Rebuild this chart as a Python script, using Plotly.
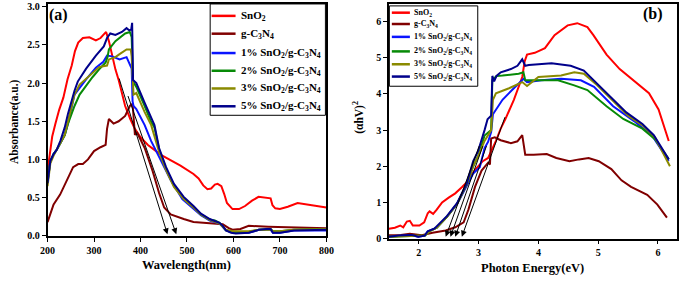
import plotly.graph_objects as go

W, H = 685, 281
FONT = "Liberation Serif"

names = ["SnO<sub>2</sub>", "g-C<sub>3</sub>N<sub>4</sub>",
         "1% SnO<sub>2</sub>/g-C<sub>3</sub>N<sub>4</sub>",
         "2% SnO<sub>2</sub>/g-C<sub>3</sub>N<sub>4</sub>",
         "3% SnO<sub>2</sub>/g-C<sub>3</sub>N<sub>4</sub>",
         "5% SnO<sub>2</sub>/g-C<sub>3</sub>N<sub>4</sub>"]
colors = ["#ff0000", "#800000", "#0a14ff", "#078a07", "#8a8a00", "#00008b"]

# ---------------- (a) absorbance vs wavelength ----------------
wl_sno2 = [200, 205, 210, 217, 225, 234, 243, 252, 259, 266, 276, 290, 304, 314, 322, 326, 332, 339, 346, 353,
           367, 378, 388, 400, 416, 444, 465, 486, 514, 525, 535, 544, 552, 560, 566, 574, 580, 586, 598, 612,
           625, 640, 654, 668, 680, 684, 690, 700, 717, 738, 766, 800]
ab_sno2 = [0.85, 1.1, 1.3, 1.47, 1.65, 1.81, 2.05, 2.23, 2.42, 2.53, 2.59, 2.60, 2.56, 2.59, 2.65, 2.67, 2.55, 2.35, 2.18, 2.04,
           1.70, 1.53, 1.40, 1.29, 1.19, 1.06, 0.99, 0.92, 0.81, 0.75, 0.66, 0.61, 0.62, 0.67, 0.68, 0.65, 0.55, 0.43, 0.35, 0.35,
           0.39, 0.46, 0.51, 0.50, 0.49, 0.40, 0.36, 0.35, 0.38, 0.43, 0.40, 0.37]

wl_gcn = [200, 206, 213, 227, 241, 255, 266, 276, 287, 300, 314, 325, 328, 332, 342, 353, 367, 377, 383, 386, 388, 392,
          409, 426, 440, 451, 465, 493, 514, 535, 577, 590, 598, 615, 633, 675, 800]
ab_gcn = [0.18, 0.30, 0.41, 0.54, 0.73, 0.90, 0.94, 0.94, 1.00, 1.11, 1.16, 1.19, 1.40, 1.53, 1.47, 1.50, 1.57, 1.70, 1.73, 1.45, 1.32, 1.36,
          1.15, 0.85, 0.56, 0.37, 0.28, 0.22, 0.18, 0.17, 0.15, 0.10, 0.08, 0.09, 0.13, 0.12, 0.10]

wl_1 = [200, 206, 213, 220, 228, 237, 244, 258, 283, 304, 320, 328, 339, 355, 370, 377, 381, 383, 385, 391, 409, 423,
        444, 465, 490, 514, 530, 549, 570, 584, 600, 633, 655, 680, 685, 700, 730, 800]
ab_1 = [0.70, 0.98, 1.07, 1.13, 1.22, 1.32, 1.47, 1.85, 2.05, 2.20, 2.28, 2.36, 2.35, 2.31, 2.34, 2.25, 2.19, 1.76, 1.70, 1.66, 1.45, 1.24,
        0.98, 0.73, 0.48, 0.36, 0.27, 0.20, 0.16, 0.07, 0.04, 0.04, 0.08, 0.08, 0.04, 0.04, 0.07, 0.07]

wl_2 = [200, 206, 213, 220, 228, 237, 244, 258, 269, 283, 297, 311, 325, 329, 332, 346, 360, 367, 377, 381, 384, 391,
        409, 423, 430, 440, 455, 472, 493, 514, 530, 549, 560, 570, 577, 584, 595, 605, 633, 655, 680, 685, 700, 730, 800]
ab_2 = [0.72, 0.98, 1.07, 1.13, 1.22, 1.32, 1.47, 1.70, 1.85, 1.97, 2.08, 2.18, 2.27, 2.34, 2.44, 2.55, 2.62, 2.65, 2.67, 2.60, 2.02, 1.95,
        1.70, 1.49, 1.42, 1.13, 0.88, 0.66, 0.49, 0.38, 0.28, 0.21, 0.20, 0.17, 0.12, 0.07, 0.05, 0.05, 0.05, 0.08, 0.09, 0.06, 0.06, 0.08, 0.09]

wl_3 = [200, 206, 213, 220, 228, 237, 244, 258, 269, 290, 311, 320, 328, 332, 346, 355, 370, 379, 381, 385, 391, 409,
        423, 440, 455, 472, 493, 514, 530, 549, 570, 584, 600, 633, 655, 680, 685, 700, 730, 800]
ab_3 = [0.65, 0.95, 1.05, 1.13, 1.22, 1.32, 1.50, 1.85, 1.98, 2.10, 2.21, 2.22, 2.23, 2.31, 2.34, 2.38, 2.44, 2.44, 2.35, 1.85, 1.87, 1.62,
        1.45, 1.10, 0.86, 0.64, 0.48, 0.37, 0.28, 0.21, 0.16, 0.08, 0.06, 0.06, 0.08, 0.08, 0.06, 0.06, 0.08, 0.09]

wl_5 = [200, 206, 213, 220, 228, 237, 244, 251, 258, 265, 283, 304, 321, 328, 335, 346, 360, 370, 376, 380, 382, 384,
        391, 409, 423, 430, 440, 455, 472, 493, 514, 530, 549, 560, 570, 577, 584, 595, 605, 633, 655, 670, 680, 685,
        700, 730, 800]
ab_5 = [0.69, 0.98, 1.07, 1.13, 1.25, 1.42, 1.60, 1.76, 1.90, 2.02, 2.19, 2.36, 2.48, 2.59, 2.65, 2.63, 2.67, 2.72, 2.69, 2.70, 2.79, 2.04,
        2.00, 1.74, 1.53, 1.45, 1.15, 0.90, 0.68, 0.51, 0.39, 0.29, 0.22, 0.19, 0.17, 0.13, 0.07, 0.04, 0.03, 0.04, 0.08, 0.09, 0.09, 0.04,
        0.04, 0.07, 0.08]

# tangent (band-edge) extrapolation lines for panel (a): start -> arrow tip
tan_a_x0 = [353, 372]
tan_a_y0 = [2.08, 1.85]
tan_a_x1 = [458, 477]
tan_a_y1 = [0.02, 0.02]

# ---------------- (b) Tauc plot ----------------
e_sno2 = [1.50, 1.60, 1.69, 1.74, 1.80, 1.85, 1.90, 2.01, 2.09, 2.15, 2.18, 2.24, 2.30, 2.39, 2.50, 2.61, 2.72, 2.80, 2.94,
          3.07, 3.16, 3.21, 3.29, 3.37, 3.45, 3.59, 3.73, 3.77, 3.81, 3.94, 4.11, 4.27, 4.49, 4.65, 4.82, 4.92, 5.14,
          5.36, 5.63, 5.85, 6.01, 6.18]
t_sno2 = [0.27, 0.30, 0.36, 0.31, 0.47, 0.49, 0.36, 0.36, 0.45, 0.70, 0.75, 0.68, 0.80, 1.00, 1.13, 1.25, 1.42, 1.55, 1.90,
          2.14, 2.23, 2.40, 2.70, 3.04, 3.31, 3.84, 4.47, 4.90, 5.09, 5.14, 5.27, 5.63, 5.90, 5.96, 5.85, 5.63, 5.09,
          4.69, 4.33, 4.02, 3.57, 2.70]

e_gcn = [1.50, 1.70, 1.85, 2.05, 2.23, 2.45, 2.61, 2.75, 2.83, 2.94, 3.05, 3.16, 3.19, 3.21, 3.27, 3.37, 3.54, 3.65, 3.73,
         3.78, 3.92, 4.14, 4.30, 4.52, 4.68, 4.84, 5.01, 5.22, 5.39, 5.55, 5.82, 5.99, 6.15]
t_gcn = [0.09, 0.10, 0.13, 0.09, 0.16, 0.22, 0.31, 0.45, 0.80, 1.43, 1.88, 2.10, 2.05, 2.77, 2.80, 2.72, 2.64, 2.69, 2.86,
         2.32, 2.32, 2.34, 2.23, 2.14, 2.19, 2.23, 2.14, 1.92, 1.61, 1.43, 1.21, 0.94, 0.58]

e_1 = [1.50, 1.66, 1.88, 1.99, 2.10, 2.15, 2.30, 2.47, 2.64, 2.80, 2.91, 3.02, 3.10, 3.16, 3.21, 3.24, 3.29, 3.40, 3.56,
       3.75, 3.81, 4.05, 4.38, 4.71, 4.93, 5.25, 5.60, 5.90, 6.18]
t_1 = [0.04, 0.07, 0.09, 0.05, 0.08, 0.20, 0.30, 0.60, 0.95, 1.45, 1.80, 1.97, 2.50, 2.68, 2.95, 3.44, 3.57, 3.84, 4.11,
       4.42, 4.33, 4.38, 4.42, 4.38, 4.20, 3.66, 3.25, 2.85, 2.15]

e_2 = [1.50, 1.70, 1.90, 2.10, 2.20, 2.30, 2.47, 2.64, 2.80, 2.91, 3.00, 3.10, 3.21, 3.23, 3.30, 3.40, 3.67, 3.75, 3.78,
       4.00, 4.33, 4.60, 4.82, 5.14, 5.42, 5.74, 5.95, 6.18]
t_2 = [0.05, 0.06, 0.08, 0.08, 0.22, 0.30, 0.60, 0.96, 1.50, 2.00, 2.30, 2.85, 3.00, 4.38, 4.50, 4.51, 4.56, 4.60, 4.38,
       4.38, 4.38, 4.24, 4.11, 3.66, 3.31, 3.04, 2.75, 2.20]

e_3 = [1.50, 1.70, 1.90, 2.10, 2.20, 2.30, 2.47, 2.64, 2.80, 2.91, 3.00, 3.10, 3.21, 3.24, 3.29, 3.51, 3.73, 3.81, 4.00,
       4.38, 4.60, 4.76, 4.98, 5.25, 5.50, 5.75, 5.95, 6.20]
t_3 = [0.05, 0.06, 0.08, 0.08, 0.22, 0.30, 0.60, 0.96, 1.50, 2.00, 2.30, 2.70, 3.00, 3.84, 4.02, 4.16, 4.33, 4.22, 4.47,
       4.51, 4.60, 4.56, 4.25, 3.80, 3.40, 3.12, 2.80, 2.00]

e_5 = [1.50, 1.66, 1.88, 1.99, 2.10, 2.15, 2.26, 2.47, 2.64, 2.80, 2.91, 2.99, 3.10, 3.15, 3.21, 3.23, 3.26, 3.30, 3.37,
       3.54, 3.65, 3.73, 3.78, 3.84, 4.22, 4.54, 4.76, 4.98, 5.25, 5.47, 5.74, 5.93, 6.18]
t_5 = [0.05, 0.08, 0.10, 0.05, 0.08, 0.20, 0.27, 0.62, 0.98, 1.52, 2.14, 2.41, 3.00, 3.30, 3.40, 4.50, 4.35, 4.50, 4.60,
       4.69, 4.78, 4.96, 4.78, 4.80, 4.85, 4.78, 4.65, 4.29, 3.84, 3.49, 3.17, 2.86, 2.19]

tan_b_x0 = [3.02, 3.08, 3.14, 3.45]
tan_b_y0 = [2.60, 2.60, 2.60, 3.40]
tan_b_x1 = [2.45, 2.53, 2.61, 2.72]
tan_b_y1 = [0.05, 0.05, 0.05, 0.05]

ticks_a_y = [0.0, 0.5, 1.0, 1.5, 2.0, 2.5, 3.0]
ticks_a_x = [200, 300, 400, 500, 600, 700, 800]
ticks_b_y = [0, 1, 2, 3, 4, 5, 6]
ticks_b_x = [2, 3, 4, 5, 6]

left_x = [wl_sno2, wl_gcn, wl_1, wl_2, wl_3, wl_5]
left_y = [ab_sno2, ab_gcn, ab_1, ab_2, ab_3, ab_5]
right_x = [e_sno2, e_gcn, e_1, e_2, e_3, e_5]
right_y = [t_sno2, t_gcn, t_1, t_2, t_3, t_5]


def px(x):
    return x / W


def py(y):
    return 1 - y / H


fig = go.Figure()
for i in range(6):
    fig.add_trace(go.Scatter(x=left_x[i], y=left_y[i], mode="lines", name=names[i],
                             line=dict(color=colors[i], width=2), showlegend=False,
                             xaxis="x", yaxis="y"))
for i in range(6):
    fig.add_trace(go.Scatter(x=right_x[i], y=right_y[i], mode="lines", name=names[i],
                             line=dict(color=colors[i], width=2), showlegend=False,
                             xaxis="x2", yaxis="y2"))

ann = []
shapes = []
# tangent arrows
for i in range(len(tan_a_x0)):
    ann.append(dict(x=tan_a_x1[i], y=tan_a_y1[i], ax=tan_a_x0[i], ay=tan_a_y0[i],
                    xref="x", yref="y", axref="x", ayref="y", text="", showarrow=True,
                    arrowhead=2, arrowsize=1.2, arrowwidth=1, arrowcolor="black"))
for i in range(len(tan_b_x0)):
    ann.append(dict(x=tan_b_x1[i], y=tan_b_y1[i], ax=tan_b_x0[i], ay=tan_b_y0[i],
                    xref="x2", yref="y2", axref="x2", ayref="y2", text="", showarrow=True,
                    arrowhead=2, arrowsize=1.2, arrowwidth=1, arrowcolor="black"))

# manual legends
leg_a = dict(x0=207, x1=325, y0=1, y1=116, lx0=208.5, lx1=233, tx=237, ys=[13.3, 31.7, 51.7, 70, 88.3, 106.7], fs=11)
leg_b = dict(x0=390.5, x1=481, y0=3, y1=86, lx0=393, lx1=411.5, tx=413.5, ys=[10, 21.7, 35, 50, 63.3, 76], fs=8)
for lg in (leg_a, leg_b):
    shapes.append(dict(type="rect", xref="paper", yref="paper",
                       x0=px(lg["x0"]), x1=px(lg["x1"]), y0=py(lg["y1"]), y1=py(lg["y0"]),
                       line=dict(color="black", width=1), fillcolor="white", layer="above"))
    for i in range(6):
        shapes.append(dict(type="line", xref="paper", yref="paper",
                           x0=px(lg["lx0"]), x1=px(lg["lx1"]), y0=py(lg["ys"][i]), y1=py(lg["ys"][i]),
                           line=dict(color=colors[i], width=2.5), layer="above"))
        ann.append(dict(x=px(lg["tx"]), y=py(lg["ys"][i]), xref="paper", yref="paper",
                        text="<b>" + names[i] + "</b>", showarrow=False, xanchor="left", yanchor="middle",
                        font=dict(family=FONT, size=lg["fs"], color="black")))


def label(x, y, text, size, angle=0):
    return dict(x=px(x), y=py(y), xref="paper", yref="paper", text=text, showarrow=False,
                xanchor="center", yanchor="middle", textangle=angle,
                font=dict(family=FONT, size=size, color="black"))


ann += [
    label(183, 271, "<b>Wavelength(nm)</b>", 12.5),
    label(6, 122, "<b>Absorbance(a.u.)</b>", 11.5, -90),
    label(537, 274, "<b>Photon Energy(eV)</b>", 12.5),
    label(359, 118, "<b>(αhV)<sup>2</sup></b>", 11.5, -90),
    label(52, 12, "<b>(a)</b>", 16),
    label(660, 11, "<b>(b)</b>", 16),
]

axis_common = dict(showline=True, linecolor="black", linewidth=1.5, mirror=True, ticks="outside",
                   ticklen=4, tickwidth=1.2, tickcolor="black", showgrid=False, zeroline=False,
                   ticklabeloverflow="allow",
                   tickfont=dict(family=FONT, size=10, color="black", weight="bold"))

fig.update_layout(
    width=W, height=H, margin=dict(l=0, r=0, t=0, b=0),
    paper_bgcolor="white", plot_bgcolor="white",
    xaxis=dict(domain=[px(40.5), px(326)], range=[200, 800], tickvals=ticks_a_x, anchor="y", **axis_common),
    yaxis=dict(domain=[py(240.5), py(1.5)], range=[0, 3.03], tickvals=ticks_a_y, tickformat=".1f",
               anchor="x", **axis_common),
    xaxis2=dict(domain=[px(390), px(684.5)], range=[1.5, 6.31], tickvals=ticks_b_x, anchor="y2", **axis_common),
    yaxis2=dict(domain=[py(243.3), py(0.7)], range=[0, 6.5], tickvals=ticks_b_y, anchor="x2", **axis_common),
    annotations=ann, shapes=shapes,
)

fig.write_html("out.html", config={"displayModeBar": False},
               post_script="document.body.style.margin='0';document.body.style.overflow='hidden';")
